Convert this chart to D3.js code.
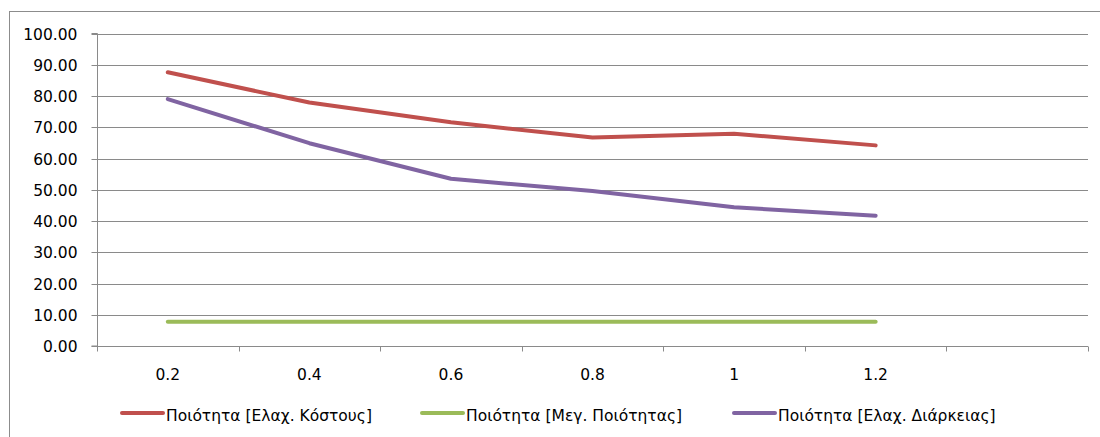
<!DOCTYPE html>
<html><head><meta charset="utf-8">
<script src="https://cdn.jsdelivr.net/npm/d3@7"></script>
<style>body{margin:0;background:#fff}svg{display:block}text{font-family:"DejaVu Sans",sans-serif;fill:#000}</style>
</head><body><svg id="c" width="1100" height="437"></svg>
<script>
const categories = ["0.2","0.4","0.6","0.8","1","1.2",""];
const seriesNames = ["Ποιότητα [Ελαχ. Κόστους]","Ποιότητα [Μεγ. Ποιότητας]","Ποιότητα [Ελαχ. Διάρκειας]"];
const costValues = [87.6, 77.9, 71.6, 66.7, 67.9, 64.2];
const qualityValues = [7.8, 7.8, 7.8, 7.8, 7.8, 7.8];
const durationValues = [79.0, 64.9, 53.5, 49.6, 44.4, 41.7];
const yTicks = [0,10,20,30,40,50,60,70,80,90,100];
const colors = ["#C0504D","#9BBB59","#8064A2"];

const svg = d3.select("#c");
svg.append("rect").attr("x",9.5).attr("y",11.5).attr("width",1100).attr("height",440)
  .attr("fill","none").attr("stroke","#8c8c8c");

const L=97, R=1088, T=33.5, B=346;
const x = d3.scaleBand().domain(categories.map((c,i)=>i)).range([L,R]);
const y = d3.scaleLinear().domain([0,100]).range([B,T]);

// gridlines
svg.append("g").selectAll("line").data(yTicks.slice(1)).join("line")
  .attr("x1",L).attr("x2",R).attr("y1",d=>Math.round(y(d))+0.5).attr("y2",d=>Math.round(y(d))+0.5)
  .attr("stroke","#8a8a8a").attr("stroke-width",1);

// y axis
const ya = svg.append("g").attr("transform",`translate(${L+0.5},0)`)
  .call(d3.axisLeft(y).tickValues(yTicks).tickSize(6).tickFormat(d3.format(".2f")));
ya.select(".domain").attr("stroke","#8a8a8a").attr("d",`M-6,${B}H0V${T}H-6`);
ya.selectAll(".tick line").attr("stroke","#8a8a8a");
ya.selectAll(".tick").attr("transform",d=>`translate(0,${Math.round(y(d))+0.5})`);
ya.selectAll("text").attr("font-size","15.5px").attr("x",-20).attr("dy","0.36em");

// x axis
const xa = svg.append("g").attr("transform",`translate(0,${B+0.5})`);
xa.append("line").attr("x1",L).attr("x2",R).attr("stroke","#8a8a8a");
const bounds = categories.map((c,i)=>x(i)).concat([R]);
xa.selectAll("line.t").data(bounds).join("line").attr("class","t")
  .attr("x1",d=>Math.round(d)+0.5).attr("x2",d=>Math.round(d)+0.5).attr("y1",0).attr("y2",5)
  .attr("stroke","#8a8a8a");
xa.selectAll("text").data(categories).join("text")
  .attr("x",(d,i)=>x(i)+x.bandwidth()/2).attr("y",33).attr("text-anchor","middle")
  .attr("font-size","15.5px").text(d=>d);

// lines
const all = [costValues, qualityValues, durationValues];
const line = d3.line().x((d,i)=>x(i)+x.bandwidth()/2).y(d=>y(d));
[1,0,2].forEach(k=>{
  svg.append("path").datum(all[k]).attr("d",line).attr("fill","none")
    .attr("stroke",colors[k]).attr("stroke-width",4).attr("stroke-linecap","round").attr("stroke-linejoin","round");
});

// legend
const legX = [122, 422, 734];
const lg = svg.append("g");
seriesNames.forEach((n,k)=>{
  lg.append("line").attr("x1",legX[k]).attr("x2",legX[k]+41).attr("y1",413).attr("y2",413)
    .attr("stroke",colors[k]).attr("stroke-width",4).attr("stroke-linecap","round");
  lg.append("text").attr("x",legX[k]+44).attr("y",421).attr("font-size","15.5px").text(n);
});
</script></body></html>
